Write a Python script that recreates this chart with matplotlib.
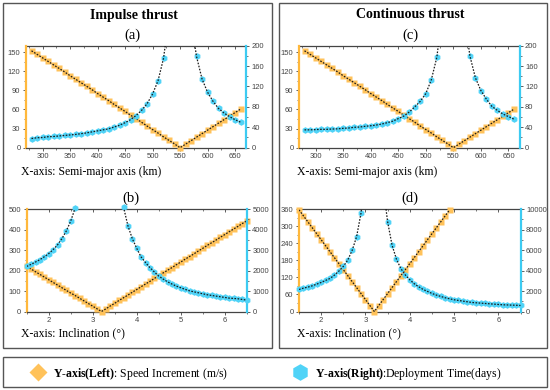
import matplotlib
matplotlib.use('Agg')
import matplotlib.pyplot as plt
from matplotlib.patches import Rectangle
from matplotlib.lines import Line2D
from matplotlib.ticker import MultipleLocator, AutoMinorLocator

# ---------------- data ----------------
sma = [280, 290, 300, 310, 320, 330, 340, 350, 360, 370, 380, 390, 400, 410, 420,
       430, 440, 450, 460, 470, 480, 490, 500, 510, 520, 530, 540, 550, 560, 570,
       580, 590, 600, 610, 620, 630, 640, 650, 660]
sma_left = [280, 290, 300, 310, 320, 330, 340, 350, 360, 370, 380, 390, 400, 410,
            420, 430, 440, 450, 460, 470, 480, 490, 500, 510, 520]
sma_right = [580, 590, 600, 610, 620, 630, 640, 650, 660]

a_dv = [152, 146.5, 141, 135.5, 130, 124.5, 119, 113, 107.5, 102, 96.5, 91, 85, 79.5,
        74, 68, 62.5, 57, 51, 45.5, 40, 34, 28.5, 23, 17, 11.5, 6, 0, 5.5, 11, 16.5,
        22, 27.5, 33, 38.5, 44, 49.5, 55, 60.5]
a_days_left = [18, 19.5, 20, 21.5, 22, 23, 24, 25, 26, 27.5, 29, 31, 33, 35, 37, 40.5,
               44, 49, 55, 63, 73, 86, 105, 131, 175]
a_days_right = [179, 135, 109, 91, 77, 68, 61, 55, 50]
a_ext = [(525, 215), (575, 215)]

c_dv = [152, 146.5, 141, 135.5, 130, 124.5, 119, 113, 107.5, 102, 96.5, 91, 85, 79.5,
        74, 68, 62.5, 57, 51, 45.5, 40, 34, 28.5, 23, 17, 11.5, 6, 0, 5.5, 11, 16.5,
        22, 27.5, 33, 38.5, 44, 49.5, 55, 60.5]
c_days_left = [35, 35, 35.5, 36, 36, 36.6, 37, 38, 38.6, 40, 40.5, 42, 43, 44.4, 46.4,
               49, 52, 57, 62, 70, 80, 91, 106, 133, 177]
c_days_right = [180, 137, 112, 95, 81, 73, 66, 61, 56]
c_ext = [(525, 220), (575, 220)]

inc = [1.5, 1.6, 1.7, 1.8, 1.9, 2.0, 2.1, 2.2, 2.3, 2.4, 2.5, 2.6, 2.7, 2.8, 2.9, 3.0,
       3.1, 3.2, 3.3, 3.4, 3.5, 3.6, 3.7, 3.8, 3.9, 4.0, 4.1, 4.2, 4.3, 4.4, 4.5, 4.6,
       4.7, 4.8, 4.9, 5.0, 5.1, 5.2, 5.3, 5.4, 5.5, 5.6, 5.7, 5.8, 5.9, 6.0, 6.1, 6.2,
       6.3, 6.4, 6.5]
b_dv = [220, 207, 194, 181, 168, 155, 142, 129, 116, 103, 90, 78, 65, 52, 39, 26, 13, 0,
        13, 27, 40, 54, 67, 80, 94, 107, 121, 134, 147, 161, 174, 188, 201, 214, 228,
        241, 255, 268, 281, 295, 308, 322, 335, 348, 362, 375, 389, 402, 415, 429, 442]
inc_b_left = [1.5, 1.6, 1.7, 1.8, 1.9, 2.0, 2.1, 2.2, 2.3, 2.4, 2.5, 2.6]
b_days_left = [2200, 2300, 2414, 2528, 2670, 2825, 3016, 3250, 3553, 3927, 4410, 5040]
inc_b_right = [3.7, 3.8, 3.9, 4.0, 4.1, 4.2, 4.3, 4.4, 4.5, 4.6, 4.7, 4.8, 4.9, 5.0,
               5.1, 5.2, 5.3, 5.4, 5.5, 5.6, 5.7, 5.8, 5.9, 6.0, 6.1, 6.2, 6.3, 6.4, 6.5]
b_days_right = [5100, 4185, 3553, 3085, 2660, 2390, 2140, 1930, 1730, 1585, 1450, 1340,
                1240, 1160, 1080, 1010, 960, 915, 866, 817, 784, 752, 719, 686, 654,
                637, 621, 588, 556]
b_ext = [(2.62, 5400), (3.66, 5400)]

inc_d = [1.5, 1.6, 1.7, 1.8, 1.9, 2.0, 2.1, 2.2, 2.3, 2.4, 2.5, 2.6, 2.7, 2.8, 2.9,
         3.0, 3.1, 3.2, 3.3, 3.4, 3.5, 3.6, 3.7, 3.8, 3.9, 4.0, 4.1, 4.2, 4.3, 4.4,
         4.5, 4.6, 4.7, 4.8, 4.9]
d_dv = [357, 336, 315, 294, 273, 252, 231, 210, 189, 168, 147, 126, 105, 84, 63, 42,
        21, 0, 21, 42, 63, 84, 105, 126, 147, 168, 189, 210, 231, 252, 273, 294, 315,
        336, 357]
inc_d_left = [1.5, 1.6, 1.7, 1.8, 1.9, 2.0, 2.1, 2.2, 2.3, 2.4, 2.5, 2.6, 2.7, 2.8, 2.9]
d_days_left = [2150, 2280, 2378, 2508, 2671, 2834, 3029, 3225, 3550, 3941, 4397, 5016,
               5961, 7296, 9609]
inc_d_right = [3.5, 3.6, 3.7, 3.8, 3.9, 4.0, 4.1, 4.2, 4.3, 4.4, 4.5, 4.6, 4.7, 4.8,
               4.9, 5.0, 5.1, 5.2, 5.3, 5.4, 5.5, 5.6, 5.7, 5.8, 5.9, 6.0, 6.1, 6.2,
               6.3, 6.4, 6.5]
d_days_right = [8762, 6480, 5098, 4183, 3562, 3105, 2712, 2418, 2157, 1961, 1765, 1601,
                1471, 1340, 1242, 1144, 1078, 1013, 948, 882, 850, 817, 784, 752, 719,
                686, 654, 640, 621, 610, 588]
d_ext = [(2.95, 11500), (3.42, 11500)]

titles = ['Impulse thrust', 'Continuous thrust']
panel_labels = ['(a)', '(b)', '(c)', '(d)']
xlabels = ['X-axis: Semi-major axis (km)', 'X-axis: Inclination (°)']
legend_labels = ['$\\mathbf{Y\u2010axis(Left)}$: Speed Increment (m/s)',
                 '$\\mathbf{Y\u2010axis(Right)}$:Deployment Time(days)']

# ---------------- style ----------------
plt.rcParams['mathtext.fontset'] = 'custom'
plt.rcParams['mathtext.rm'] = 'Liberation Serif'
plt.rcParams['mathtext.bf'] = 'Liberation Serif:bold'
ORANGE = '#FFC25A'
BLUE = '#50D3F7'
ORANGE_SP = '#FFB83C'
BLUE_SP = '#3CCBF2'
GRAY = '#444444'
SANS = 'Liberation Sans'
SERIF = 'Liberation Serif'
DOT = (0, (1.3, 1.2))

W, H = 550, 390
fig = plt.figure(figsize=(5.5, 3.9), dpi=100)


def fx(px):
    return px / W


def fy(py):
    return 1 - py / H


# boxes
for (x0, y0, x1, y1) in [(3, 3, 272, 348), (279, 3, 547, 348), (3, 357, 547, 387)]:
    fig.patches.append(Rectangle((fx(x0), fy(y1)), (x1 - x0) / W, (y1 - y0) / H,
                                 transform=fig.transFigure, fill=False,
                                 ec='#555555', lw=1.0))


def make_panel(px_rect, x, dv, xl, yl, yr, xmaj, ylmaj, yrmaj, segs, ext):
    x0, y0, x1, y1 = px_rect
    ax = fig.add_axes([fx(x0), fy(y1), (x1 - x0) / W, (y1 - y0) / H])
    ax2 = ax.twinx()
    ax.set_xlim(*xl)
    ax.set_ylim(*yl)
    ax2.set_ylim(*yr)
    # orange
    ax.plot(x, dv, ls='none', marker='s', ms=3.8, color=ORANGE, mec='none',
            zorder=3, clip_on=False)
    ax.plot(x, dv, ls=DOT, lw=0.9, color='#1a1a1a', zorder=4)
    # blue
    (bx1, by1), (bx2, by2) = segs
    ax2.plot(bx1 + bx2, by1 + by2, ls='none', marker='h', ms=4.8, color=BLUE,
             mec='none', zorder=3, clip_on=False)
    ax2.plot(bx1 + [ext[0][0]], by1 + [ext[0][1]], ls=DOT, lw=0.9,
             color='#1a1a1a', zorder=4)
    ax2.plot([ext[1][0]] + bx2, [ext[1][1]] + by2, ls=DOT, lw=0.9,
             color='#1a1a1a', zorder=4)
    # ticks
    ax.xaxis.set_major_locator(MultipleLocator(xmaj))
    ax.xaxis.set_minor_locator(AutoMinorLocator(2))
    ax.yaxis.set_major_locator(MultipleLocator(ylmaj))
    ax.yaxis.set_minor_locator(AutoMinorLocator(2))
    ax2.yaxis.set_major_locator(MultipleLocator(yrmaj))
    ax2.yaxis.set_minor_locator(AutoMinorLocator(2))
    for a in (ax, ax2):
        a.tick_params(which='major', length=2.5, width=0.6, labelsize=5.5,
                      colors=GRAY, pad=1.5)
        a.tick_params(which='minor', length=1.4, width=0.5, colors=GRAY)
        for lab in a.get_xticklabels() + a.get_yticklabels():
            lab.set_fontfamily(SANS)
    sec = ax.secondary_xaxis('top')
    sec.xaxis.set_major_locator(MultipleLocator(xmaj))
    sec.xaxis.set_minor_locator(AutoMinorLocator(2))
    sec.tick_params(which='major', direction='in', length=2.5, width=0.6,
                    labeltop=False, colors=GRAY)
    sec.tick_params(which='minor', direction='in', length=1.4, width=0.5,
                    colors=GRAY)
    sec.spines['top'].set_color(GRAY)
    sec.spines['top'].set_linewidth(0.9)
    # spines
    ax.spines['left'].set_color(ORANGE_SP)
    ax.spines['left'].set_linewidth(1.6)
    ax.spines['right'].set_visible(False)
    ax.spines['top'].set_visible(False)
    ax.spines['bottom'].set_color(GRAY)
    ax.spines['bottom'].set_linewidth(0.9)
    ax2.spines['right'].set_color(BLUE_SP)
    ax2.spines['right'].set_linewidth(1.6)
    ax2.spines['left'].set_visible(False)
    ax2.spines['top'].set_visible(False)
    ax2.spines['bottom'].set_visible(False)
    ax.patch.set_visible(False)
    return ax


make_panel((26, 45.7, 246, 147.7), sma, a_dv, (270, 670), (0, 160), (0, 200),
           50, 30, 40, [(sma_left, a_days_left), (sma_right, a_days_right)], a_ext)
make_panel((299, 45.7, 519.5, 147.7), sma, c_dv, (270, 670), (0, 160), (0, 200),
           50, 30, 40, [(sma_left, c_days_left), (sma_right, c_days_right)], c_ext)
make_panel((26.7, 209, 246.7, 311.5), inc, b_dv, (1.5, 6.5), (0, 500), (0, 5000),
           1, 100, 1000, [(inc_b_left, b_days_left), (inc_b_right, b_days_right)], b_ext)
make_panel((299, 209, 520.5, 311.5), inc_d, d_dv, (1.5, 6.5), (0, 360), (0, 10000),
           1, 60, 2000, [(inc_d_left, d_days_left), (inc_d_right, d_days_right)], d_ext)

# titles and labels
fig.text(fx(134), fy(15), titles[0], family=SERIF, weight='bold', fontsize=10,
         ha='center', va='center')
fig.text(fx(410), fy(15), titles[1], family=SERIF, weight='bold', fontsize=10,
         ha='center', va='center')
for lab, (px, py) in zip(panel_labels, [(132, 35), (131, 198), (410, 35), (410, 198)]):
    fig.text(fx(px), fy(py), lab, family=SERIF, fontsize=10.5, ha='center',
             va='center')
for (px, py), lab in zip([(21, 172), (297, 172), (21, 333), (297, 333)],
                         [xlabels[0], xlabels[0], xlabels[1], xlabels[1]]):
    fig.text(fx(px), fy(py), lab, family=SERIF, fontsize=8.5, ha='left',
             va='center')

# legend
fig.add_artist(Line2D([fx(38)], [fy(372)], marker='D', ms=9.5, color=ORANGE,
                      mec='none', ls='none', transform=fig.transFigure))
fig.add_artist(Line2D([fx(300)], [fy(372)], marker='h', ms=12, color=BLUE,
                      mec='none', ls='none', transform=fig.transFigure))
for px, lab in zip([53, 315], legend_labels):
    fig.text(fx(px), fy(372), lab, family=SERIF, fontsize=8.5, ha='left',
             va='center_baseline')

fig.savefig('out.png', dpi=100)
